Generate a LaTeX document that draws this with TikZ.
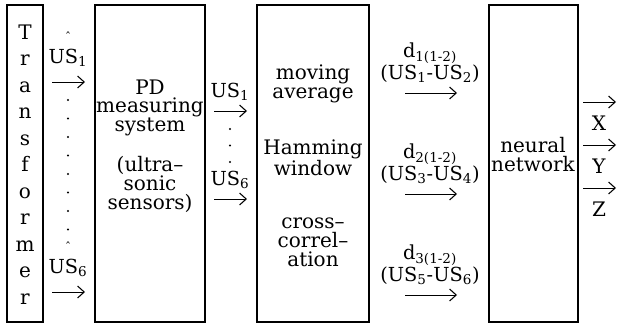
\documentclass[tikz,border=0pt]{standalone}
\usepackage{fontspec}
\setmainfont{DejaVu Serif}
\usetikzlibrary{arrows.meta}
\newcommand{\us}[1]{US\textsubscript{#1}}
\newcommand{\dd}[1]{d\textsubscript{#1(1-2)}}

\begin{document}
\begin{tikzpicture}
    [
    x=0.75pt, y=-0.75pt,
    blk/.style = {line width=0.9pt},
    txt/.style = {inner sep=0pt,align=center,font=\fontsize{14.5}{14.2}\selectfont},
    big/.style = {txt,font=\fontsize{15}{14.2}\selectfont},
    dot/.style = {circle,fill,inner sep=0pt,minimum size=1.7pt},
    arr/.style = {line width=0.6pt,-{Straight Barb[length=5pt,width=9pt,line width=0.8pt]}}
    ]
\useasboundingbox (0,0) rectangle (620,325);

\draw[blk] (7,5) rectangle (43,322);
\draw[blk] (95,5) rectangle (205,322);
\draw[blk] (257,5) rectangle (369,322);
\draw[blk] (489,5) rectangle (578,322);

% transformer
\foreach \c [count=\i from 0] in {T,r,a,n,s,f,o,r,m,e,r}
    \node[big,text height=10.5pt,text depth=0pt] (tr\i) at (25,32+26.5*\i) {\c};

% transformer -> PD
\node[txt,font=\small] (car1) at (68,37) {ˆ};
\node[txt] (us1) at (68,58) {\us{1}};
\coordinate (a1s) at (52,82);
\coordinate (a1e) at (85,82);
\draw[arr] (a1s) -- (a1e);
\foreach \i in {0,...,7}
    \node[dot] (da\i) at (68,100+18.5*\i) {};
\node[txt,font=\small] (car2) at (68,247) {ˆ};
\node[txt] (us6) at (68,268) {\us{6}};
\coordinate (a2s) at (52,292);
\coordinate (a2e) at (85,292);
\draw[arr] (a2s) -- (a2e);

\node[big] (pd) at (150,146) {PD\\measuring\\system\\[14pt](ultra--\\sonic\\sensors)};

% PD -> filter
\node[txt] (us1b) at (230,92) {\us{1}};
\coordinate (b1s) at (214,111);
\coordinate (b1e) at (247,111);
\draw[arr] (b1s) -- (b1e);
\foreach \i in {0,1,2}
    \node[dot] (db\i) at (230,129+16.5*\i) {};
\node[txt] (us6b) at (230,180) {\us{6}};
\coordinate (b2s) at (214,199);
\coordinate (b2e) at (247,199);
\draw[arr] (b2s) -- (b2e);

\node[big] (filt) at (313,166) {moving\\average\\[26pt]Hamming\\window\\[26pt]cross--\\correl--\\ation};

% filter -> net
\node[txt] (d1) at (430,63) {\dd{1}\\(\us{1}-\us{2})};
\coordinate (c1s) at (405,93);
\coordinate (c1e) at (457,93);
\draw[arr] (c1s) -- (c1e);
\node[txt] (d2) at (430,164) {\dd{2}\\(\us{3}-\us{4})};
\coordinate (c2s) at (405,194);
\coordinate (c2e) at (457,194);
\draw[arr] (c2s) -- (c2e);
\node[txt] (d3) at (430,265) {\dd{3}\\(\us{5}-\us{6})};
\coordinate (c3s) at (405,295);
\coordinate (c3e) at (457,295);
\draw[arr] (c3s) -- (c3e);

\node[big] (nn) at (533,155) {neural\\network};

% outputs
\foreach \v [count=\i from 0] in {X,Y,Z} {
    \coordinate (o\i s) at (583,102+43*\i);
    \coordinate (o\i e) at (616,102+43*\i);
    \draw[arr] (o\i s) -- (o\i e);
    \node[big] (out\i) at (599,123+43*\i) {\v};
}

\end{tikzpicture}
\end{document}
